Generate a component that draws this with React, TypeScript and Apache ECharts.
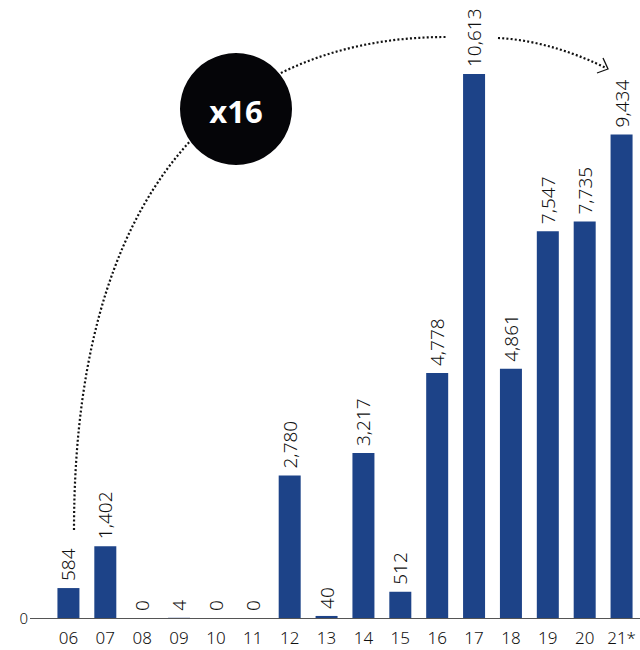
import React, { useEffect, useRef } from "react";
import * as echarts from "echarts";

// Years on the x axis (21* = partial year)
const years = ["06", "07", "08", "09", "10", "11", "12", "13", "14", "15", "16", "17", "18", "19", "20", "21*"];
// Yearly totals
const totals = [584, 1402, 0, 4, 0, 0, 2780, 40, 3217, 512, 4778, 10613, 4861, 7547, 7735, 9434];
// Only the zero tick is labelled on the value axis
const yTickLabels = ["0"];

const BAR_COLOR = "#1d4388";
const TEXT_COLOR = "#111111";
const FONT = "'Noto Sans', 'DejaVu Sans', sans-serif";
const BADGE_FONT = "'Open Sans', 'Noto Sans', sans-serif";

const fmt = (v: number) => v.toLocaleString("en-US");

export default function App() {
  const ref = useRef<HTMLDivElement>(null);

  useEffect(() => {
    document.body.style.margin = "0";
    if (!ref.current) return;
    const chart = echarts.init(ref.current, undefined, { renderer: "svg" });
    const maxVal = Math.max(...totals);

    const dot = { stroke: "#111", lineWidth: 2.2, lineDash: [2, 2.2], fill: null };

    chart.setOption({
      animation: false,
      grid: { left: 50, right: 0, top: 74, bottom: 32, containLabel: false },
      xAxis: {
        type: "category",
        data: years,
        axisLine: { show: false },
        axisTick: { show: false },
        axisLabel: {
          interval: 0,
          hideOverlap: false,
          color: TEXT_COLOR,
          fontFamily: FONT,
          fontWeight: 300,
          fontSize: 17,
          margin: 11,
        },
      },
      yAxis: {
        type: "value",
        min: 0,
        max: maxVal,
        interval: maxVal,
        splitLine: { show: false },
        axisLine: { show: false },
        axisTick: { show: false },
        axisLabel: {
          color: TEXT_COLOR,
          fontFamily: FONT,
          fontWeight: 300,
          fontSize: 15,
          margin: 22,
          formatter: (v: number) => (yTickLabels.includes(String(v)) ? String(v) : ""),
        },
      },
      series: [
        {
          type: "bar",
          data: totals,
          barWidth: 22,
          itemStyle: { color: BAR_COLOR },
          label: {
            show: true,
            position: "top",
            rotate: 90,
            align: "left",
            verticalAlign: "middle",
            distance: 7,
            color: TEXT_COLOR,
            fontFamily: FONT,
            fontWeight: 300,
            fontSize: 19,
            formatter: (p: any) => fmt(p.value),
          },
        },
      ],
      graphic: [
        // baseline
        {
          type: "line",
          shape: { x1: 30, y1: 618.5, x2: 640, y2: 618.5 },
          style: { stroke: "#555", lineWidth: 1 },
          z: 5,
        },
        // dotted growth arc
        {
          type: "bezierCurve",
          shape: { x1: 74, y1: 530, cpx1: 74, cpy1: 150, cpx2: 260, cpy2: 37, x2: 446, y2: 37 },
          style: dot,
          z: 10,
        },
        {
          type: "bezierCurve",
          shape: { x1: 498, y1: 38, cpx1: 540, cpx2: 580, cpy1: 40, cpy2: 55, x2: 606, y2: 68 },
          style: dot,
          z: 10,
        },
        {
          type: "polyline",
          shape: { points: [[603, 58], [608, 69], [597, 73]] },
          style: { stroke: "#111", lineWidth: 1.3, fill: null },
          z: 10,
        },
        // multiplier badge
        {
          type: "circle",
          shape: { cx: 236, cy: 109, r: 56 },
          style: { fill: "#050508" },
          z: 11,
        },
        {
          type: "text",
          x: 236,
          y: 111,
          style: {
            text: "x16",
            fill: "#ffffff",
            font: `bold 31px ${BADGE_FONT}`,
            align: "center",
            verticalAlign: "middle",
          },
          z: 12,
        },
      ],
    });
    return () => chart.dispose();
  }, []);

  return <div ref={ref} style={{ width: 640, height: 650 }} />;
}
